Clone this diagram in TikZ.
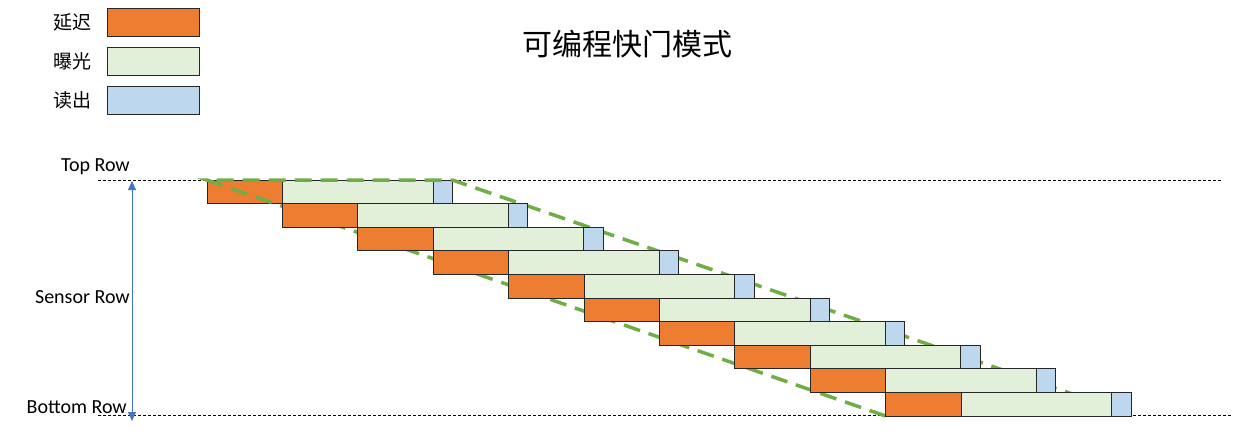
\documentclass[tikz,border=0pt]{standalone}
\usepackage{fontspec}
\setmainfont{Carlito}
\newfontfamily\cjk{Noto Sans CJK SC}
\usetikzlibrary{arrows.meta, positioning}
\definecolor{delayc}{HTML}{ED7D31}
\definecolor{expoc}{HTML}{E2F0D9}
\definecolor{readc}{HTML}{BDD7EE}
\definecolor{dashc}{HTML}{70AD47}
\definecolor{arrowc}{HTML}{4472C4}
\newcommand{\sensorrow}[1]{
	\node (delay_#1) [delay, anchor=north west] at (207+75.4*#1, 180+23.6*#1) {};
	\node (expo_#1) [expo, right=of delay_#1] {};
	\node (read_#1) [readout, right=of expo_#1] {};
}

\begin{document}
\begin{tikzpicture}[x=1pt, y=-1pt, node distance=0pt,
	font=\fontsize{20pt}{23pt}\selectfont,
	cell/.style={draw=black!85, line width=0.8pt, minimum height=23.6pt, inner sep=0pt, outer sep=0pt},
	delay/.style={cell, fill=delayc, minimum width=75.4pt},
	expo/.style={cell, fill=expoc, minimum width=150.5pt},
	readout/.style={cell, fill=readc, minimum width=19.5pt},
	legend/.style={draw=black!85, line width=0.8pt, minimum width=92pt, minimum height=28pt, inner sep=0pt},
	guide/.style={black, line width=0.6pt, dash pattern=on 3pt off 2pt},
	front/.style={dashc, line width=3.5pt, dash pattern=on 17pt off 9pt}]
				\useasboundingbox (0,0) rectangle (1253,444);
				\node (title) at (627,44) {\cjk\fontsize{30pt}{30pt}\selectfont 可编程快门模式};
				\node (legend_delay) [legend, fill=delayc] at (153,22) {};
				\node (legend_expo) [legend, fill=expoc] at (153,61) {};
				\node (legend_read) [legend, fill=readc] at (153,100) {};
				\node [left=15pt of legend_delay, inner sep=0pt] {\cjk\fontsize{19pt}{22pt}\selectfont 延迟};
				\node [left=15pt of legend_expo, inner sep=0pt] {\cjk\fontsize{19pt}{22pt}\selectfont 曝光};
				\node [left=15pt of legend_read, inner sep=0pt] {\cjk\fontsize{19pt}{22pt}\selectfont 读出};
				\node (top_label) [anchor=base east, inner sep=0pt] at (130,171) {Top Row};
				\node (sensor_label) [anchor=base east, inner sep=0pt] at (130,303) {Sensor Row};
				\node (bottom_label) [anchor=base east, inner sep=0pt] at (127,413) {Bottom Row};
				\coordinate (top_start) at (98,180);
				\coordinate (top_end) at (1222,180);
				\coordinate (bottom_start) at (98,415);
				\coordinate (bottom_end) at (1232,415);
				\coordinate (arrow_top) at (132,181);
				\coordinate (arrow_bottom) at (132,421);
				\coordinate (front_low) at (885.6,416);
				\coordinate (front_high) at (1136,416);
				\draw [guide] (top_start) -- (top_end);
				\draw [guide] (bottom_start) -- (bottom_end);
				\draw [arrowc, line width=0.8pt, {Triangle[width=8pt,length=9pt]}-{Triangle[width=8pt,length=9pt]}] (arrow_bottom) -- (arrow_top);
				\sensorrow{0}
				\draw [front] (front_low) -- (delay_0.north west) -- (read_0.north east) -- (front_high);
				\foreach \i in {1,...,9} {
					\sensorrow{\i}
				}
			\end{tikzpicture}
\end{document}
